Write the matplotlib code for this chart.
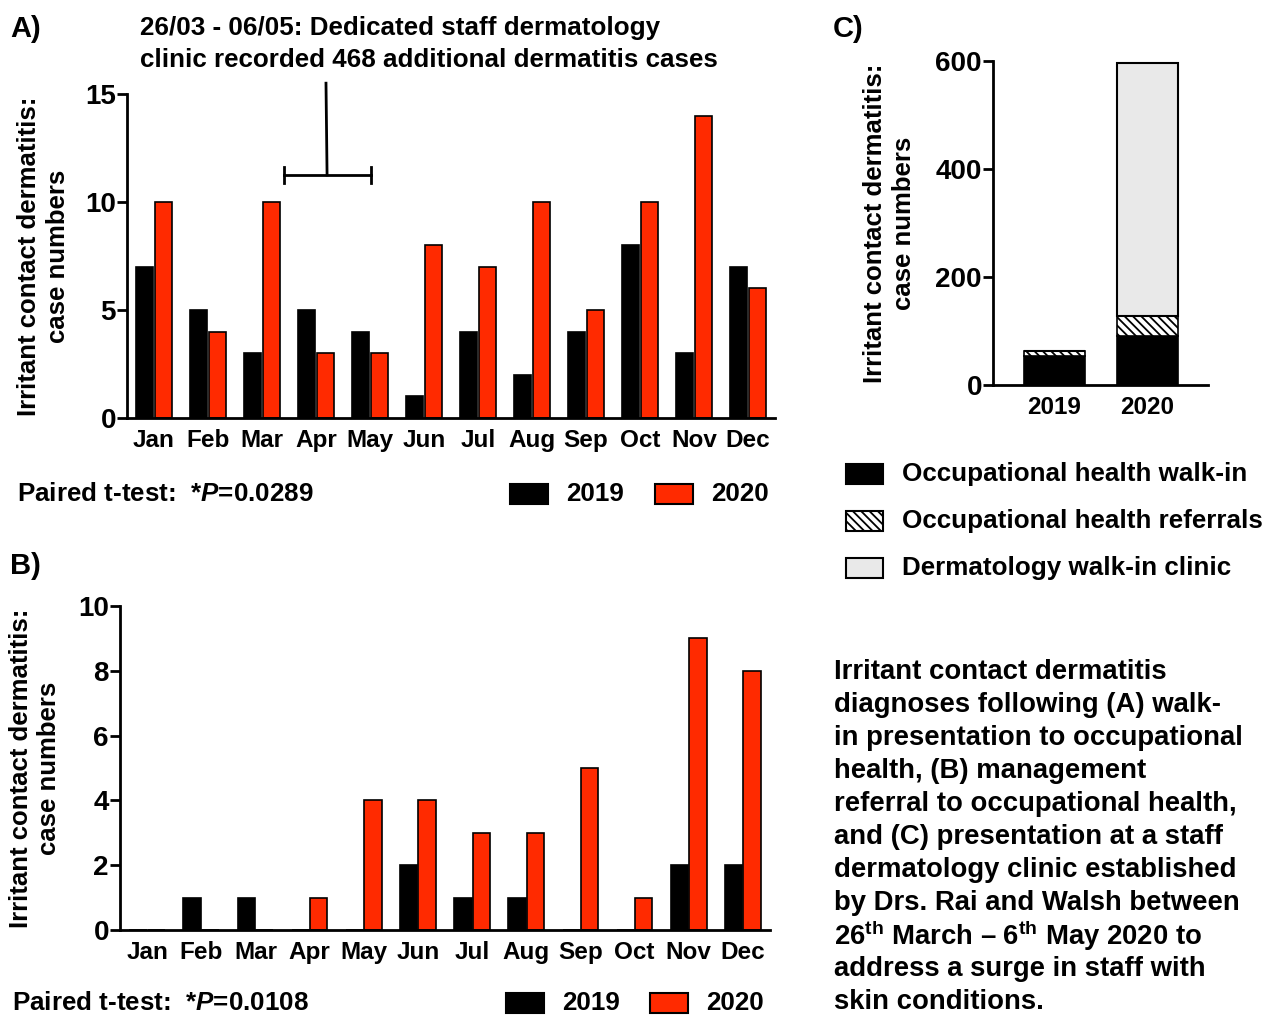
import matplotlib
matplotlib.use("Agg")
import matplotlib.pyplot as plt
import numpy as np
from matplotlib.patches import Rectangle

plt.rcParams['font.family'] = ['Liberation Sans', 'DejaVu Sans']
plt.rcParams['font.weight'] = 'bold'
plt.rcParams['mathtext.fontset'] = 'custom'
plt.rcParams['mathtext.rm'] = 'Liberation Sans:bold'
plt.rcParams['mathtext.bf'] = 'Liberation Sans:bold'
plt.rcParams['mathtext.it'] = 'Liberation Sans:style=italic:weight=bold'
plt.rcParams['hatch.linewidth'] = 1.3

months = ['Jan', 'Feb', 'Mar', 'Apr', 'May', 'Jun', 'Jul', 'Aug', 'Sep', 'Oct', 'Nov', 'Dec']
walkin_2019 = [7, 5, 3, 5, 4, 1, 4, 2, 4, 8, 3, 7]
walkin_2020 = [10, 4, 10, 3, 3, 8, 7, 10, 5, 10, 14, 6]
referral_2019 = [0, 1, 1, 0, 0, 2, 1, 1, 0, 0, 2, 2]
referral_2020 = [0, 0, 0, 1, 4, 4, 3, 3, 5, 1, 9, 8]
years = ['2019', '2020']
derm_clinic = [0, 468]
occ_walkin = [sum(walkin_2019), sum(walkin_2020)]
occ_referral = [sum(referral_2019), sum(referral_2020)]

RED = '#ff2a00'
GREY = '#e9e9e9'
W, H = 1262, 1017
FS_YT = 20
FS_XT = 17.5
FS_LAB = 18.5
FS = 18.7
FS_CAP = 19.8
FS_PANEL = 21

fig = plt.figure(figsize=(W / 100, H / 100), dpi=100)

def ax_px(l, t, r, b):
    return fig.add_axes([l / W, 1 - b / H, (r - l) / W, (b - t) / H])

def fx(x):
    return x / W

def fy(y):
    return 1 - y / H

def style(ax):
    for s in ['top', 'right']:
        ax.spines[s].set_visible(False)
    for s in ['left', 'bottom']:
        ax.spines[s].set_linewidth(2.0)
    ax.tick_params(axis='y', length=7, width=2.0, labelsize=FS_YT, pad=1)
    ax.tick_params(axis='x', length=0, labelsize=FS_XT, pad=8)
    for lab in ax.get_yticklabels() + ax.get_xticklabels():
        lab.set_fontweight('bold')

def month_panel(ax, a, b, ymax, step, lpad):
    x = np.arange(len(months))
    bw = 0.32
    ax.bar(x - bw / 2 - 0.01, a, bw, color='black', edgecolor='black', linewidth=1.2, zorder=2)
    ax.bar(x + bw / 2 + 0.01, b, bw, color=RED, edgecolor='black', linewidth=1.2, zorder=2)
    ax.set_xlim(-0.5, 11.5)
    ax.set_ylim(0, ymax)
    ax.set_yticks(np.arange(0, ymax + 0.1, step))
    ax.set_xticks(x)
    ax.set_xticklabels(months)
    ax.set_ylabel('Irritant contact dermatitis:\ncase numbers', fontsize=FS_LAB, fontweight='bold',
                  labelpad=lpad, linespacing=1.25)
    style(ax)

# Panel A
axA = ax_px(127, 94, 775, 418)
month_panel(axA, walkin_2019, walkin_2020, 15, 5, 11)
axA.plot([3.185, 3.205], [15.5, 11.25], color='black', lw=2, clip_on=False)
axA.plot([2.41, 4.02], [11.25, 11.25], color='black', lw=2, clip_on=False)
axA.plot([2.41, 2.41], [10.9, 11.6], color='black', lw=2, clip_on=False)
axA.plot([4.02, 4.02], [10.9, 11.6], color='black', lw=2, clip_on=False)
fig.text(fx(140), fy(28), '26/03 - 06/05: Dedicated staff dermatology', fontsize=FS, fontweight='bold', va='center')
fig.text(fx(140), fy(60), 'clinic recorded 468 additional dermatitis cases', fontsize=FS, fontweight='bold', va='center')
fig.text(fx(10), fy(29), 'A)', fontsize=FS_PANEL, fontweight='bold', va='center')

# Panel B
axB = ax_px(120, 606, 770, 930)
month_panel(axB, referral_2019, referral_2020, 10, 2, 12)
fig.text(fx(10), fy(566), 'B)', fontsize=FS_PANEL, fontweight='bold', va='center')

# stats + legends for A and B
def stats_legend(ytext, ptxt, xs):
    fig.text(fx(xs[0]), fy(ytext), 'Paired t-test:  *$\\it{P}$=' + ptxt, fontsize=FS, fontweight='bold', va='center')
    for (x0, col, lab) in [(xs[1], 'black', '2019'), (xs[2], RED, '2020')]:
        fig.add_artist(Rectangle((fx(x0), fy(ytext + 10)), 38 / W, 20 / H, transform=fig.transFigure,
                                 facecolor=col, edgecolor='black', lw=1.5))
        fig.text(fx(x0 + 56), fy(ytext), lab, fontsize=FS, fontweight='bold', va='center')

stats_legend(494, '0.0289', (17, 510, 655))
stats_legend(1003, '0.0108', (12, 506, 650))

# Panel C
axC = ax_px(993, 61, 1208, 385)
xc = np.arange(len(years))
bwc = 0.655
axC.bar(xc, occ_walkin, bwc, color='black', edgecolor='black', lw=1.2, zorder=2)
axC.bar(xc, occ_referral, bwc, bottom=occ_walkin, color='white', edgecolor='black', hatch='\\\\\\\\', lw=1.2, zorder=2)
axC.bar(xc, derm_clinic, bwc, bottom=np.array(occ_walkin) + np.array(occ_referral), color=GREY,
        edgecolor='black', lw=1.5, zorder=2)
axC.set_xlim(-0.66, 1.65)
axC.set_ylim(0, 600)
axC.set_yticks([0, 200, 400, 600])
axC.set_xticks(xc)
axC.set_xticklabels(years)
axC.set_ylabel('Irritant contact dermatitis:\ncase numbers', fontsize=FS_LAB, fontweight='bold',
               labelpad=14, linespacing=1.25)
style(axC)
fig.text(fx(833), fy(29), 'C)', fontsize=FS_PANEL, fontweight='bold', va='center')

# legend for C
leg_items = [('black', None, 'Occupational health walk-in', 474),
             ('white', '\\\\\\\\', 'Occupational health referrals', 521),
             (GREY, None, 'Dermatology walk-in clinic', 568)]
for col, hatch, lab, yc in leg_items:
    fig.add_artist(Rectangle((fx(846), fy(yc + 10)), 37 / W, 20 / H, transform=fig.transFigure,
                             facecolor=col, edgecolor='black', hatch=hatch, lw=1.5))
    fig.text(fx(902), fy(yc), lab, fontsize=FS, fontweight='bold', va='center')

caption = ['Irritant contact dermatitis',
           'diagnoses following (A) walk-',
           'in presentation to occupational',
           'health, (B) management',
           'referral to occupational health,',
           'and (C) presentation at a staff',
           'dermatology clinic established',
           'by Drs. Rai and Walsh between',
           '26$^{\\mathbf{th}}$ March \u2013 6$^{\\mathbf{th}}$ May 2020 to',
           'address a surge in staff with',
           'skin conditions.']
for i, line in enumerate(caption):
    fig.text(fx(834), fy(672 + i * 33), line, fontsize=FS_CAP, fontweight='bold', va='center')

fig.savefig('out.png', dpi=100)
